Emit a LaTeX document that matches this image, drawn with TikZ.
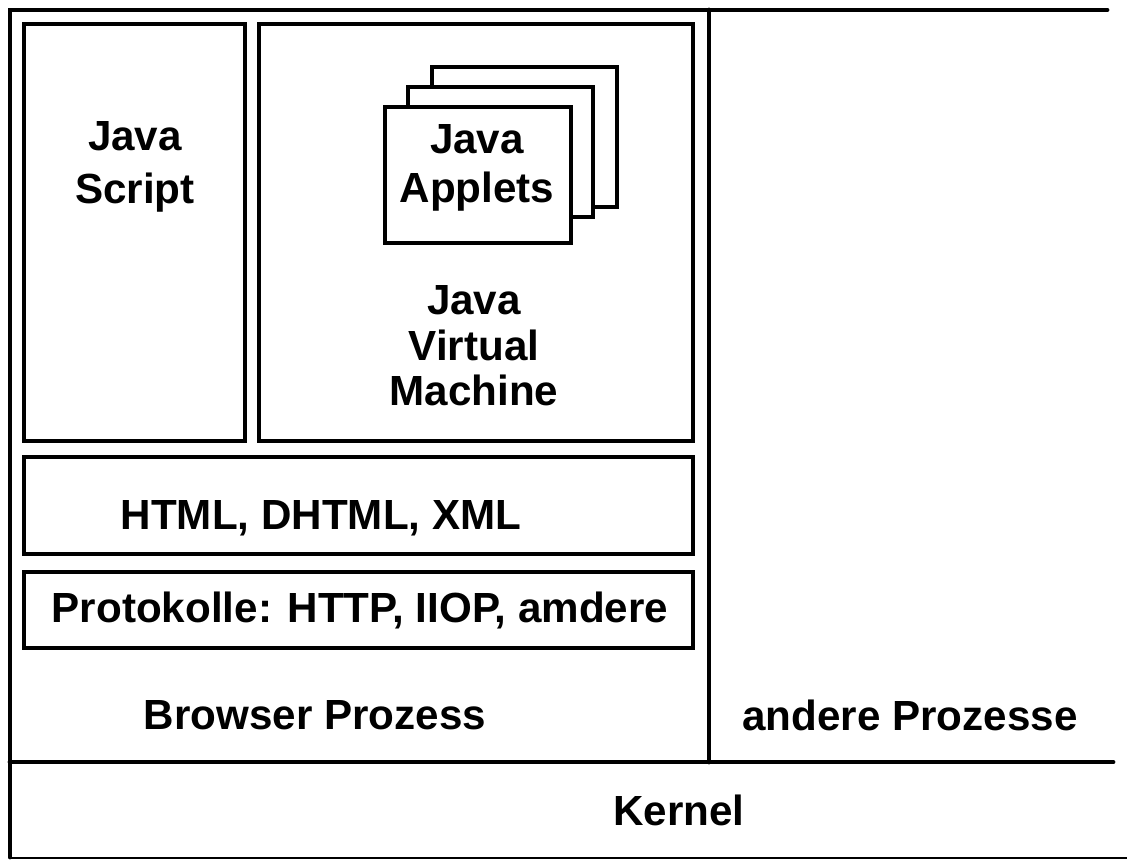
\documentclass[tikz,border=0pt]{standalone}
\usepackage{fontspec}
\setmainfont{Liberation Sans}
\usepackage{tikz}

\begin{document}
\begin{tikzpicture}[x=0.02cm,y=-0.02cm,
    box/.style={line width=2.8pt},
    frame/.style={line width=2.8pt,line cap=round},
    lbl/.style={font=\fontsize{24}{28}\selectfont\bfseries,align=center,inner sep=0pt}]
    \useasboundingbox (0,0) rectangle (1127,860);
    % outer frame
    \draw[frame] (10,857) -- (10,10) -- (1107,10);
    \draw[frame] (709,10) -- (709,762);
    \draw[frame] (10,762) -- (1113,762);
    \draw[line width=1.1pt] (10,858) -- (1127,858);
    % browser layers
    \draw[box] (24,24) rectangle (245,441);
    \draw[box] (259,24) rectangle (693,441);
    \draw[box] (24,457) rectangle (693,554);
    \draw[box] (24,572) rectangle (693,648);
    % applet stack, back to front
    \foreach \xa/\ya/\xb/\yb in {432/67/617/207, 408/87/593/217, 385/107/571/243} {
        \filldraw[box,fill=white] (\xa,\ya) rectangle (\xb,\yb);
    }
    \node[lbl,font=\fontsize{24}{30}\selectfont\bfseries] (js) at (135,167) {Java\\Script};
    \node[lbl] (applets) at (477,168) {Java\\Applets};
    \node[lbl,font=\fontsize{24}{26}\selectfont\bfseries] (jvm) at (474,346) {Java\\Virtual\\Machine};
    \node[lbl] (html) at (321,518) {HTML, DHTML, XML};
    \node[lbl] (proto) at (360,610) {Protokolle: HTTP, IIOP, amdere};
    \node[lbl] (browser) at (315,715) {Browser Prozess};
    \node[lbl] (andere) at (910,715) {andere Prozesse};
    \node[lbl] (kernel) at (679,810) {Kernel};
\end{tikzpicture}
\end{document}
